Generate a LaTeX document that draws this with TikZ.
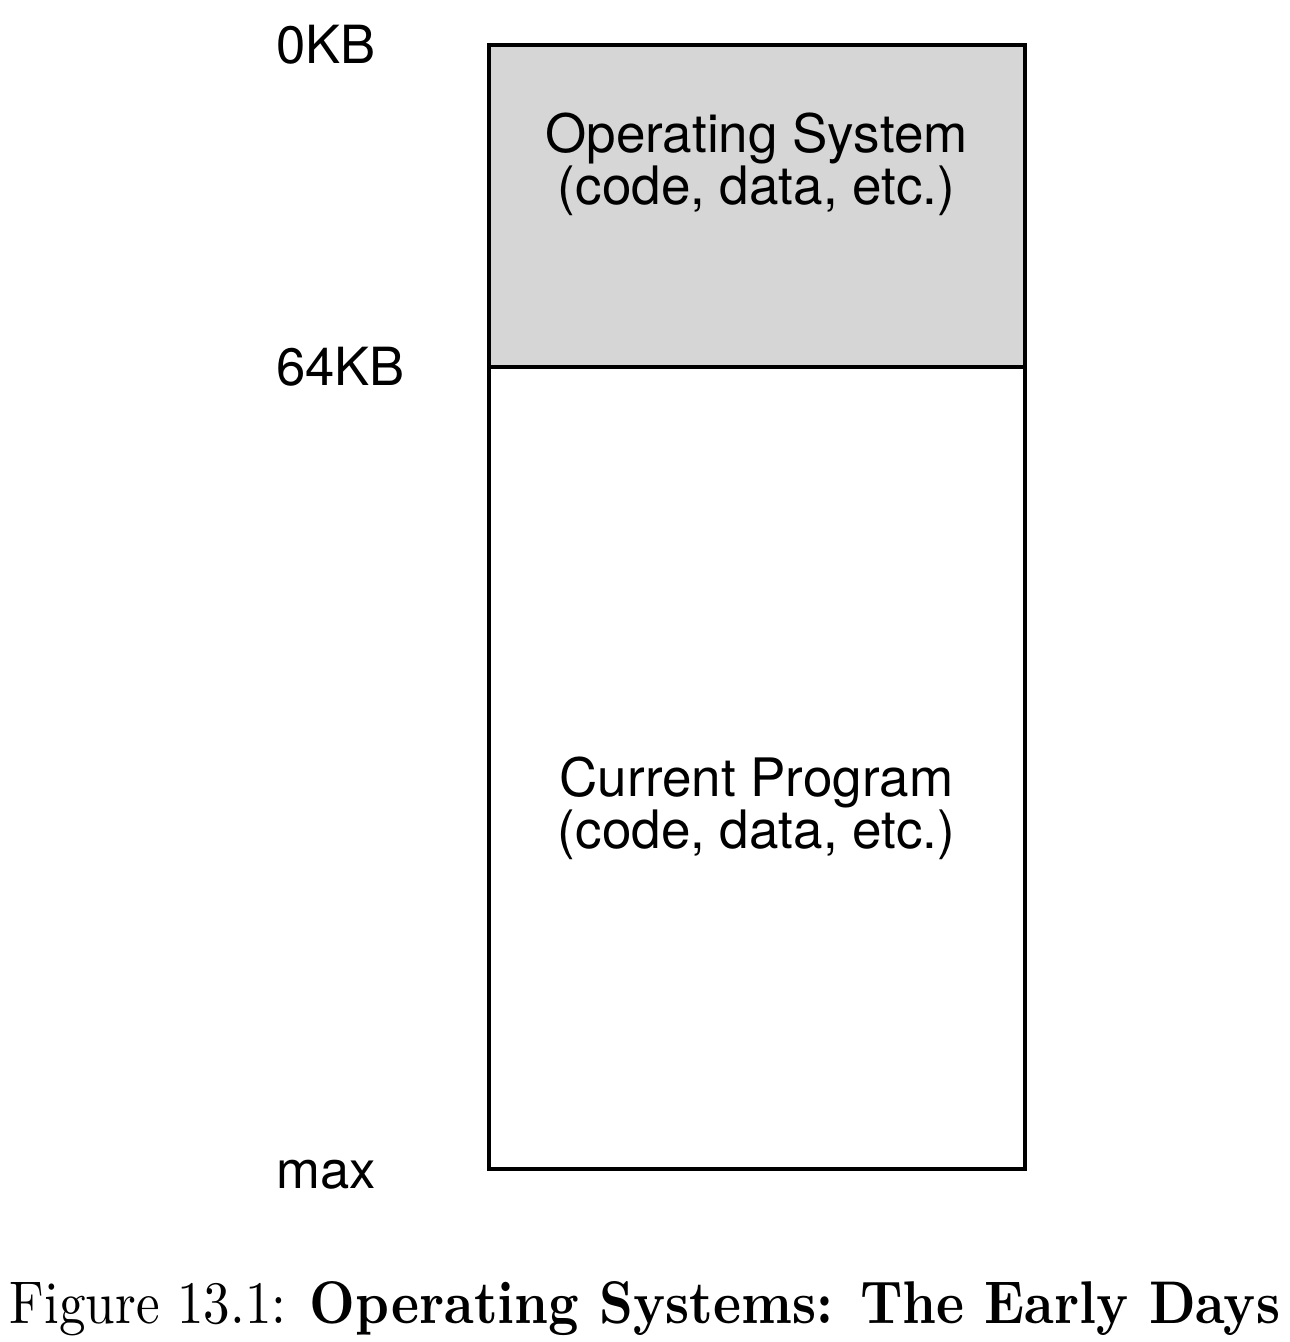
\documentclass[tikz,border=0pt]{standalone}
\usepackage{fontspec}
\usepackage{graphicx}
\newfontfamily\labelfont{TeX Gyre Heros}
\begin{document}
\begin{tikzpicture}[x=0.5pt,y=-0.5pt,
  addr/.style={font=\labelfont\fontsize{26.3pt}{26pt}\selectfont, anchor=base west, inner sep=0pt},
  boxtext/.style={font=\labelfont\fontsize{26.5pt}{26pt}\selectfont, anchor=base, inner sep=0pt},
  region/.style={draw=black, line width=2.4pt}]
\useasboundingbox (0,0) rectangle (1289,1342);
\fill[white] (0,0) rectangle (1289,1342);
\path[region, fill={rgb,255:red,214;green,214;blue,214}] (489,45) rectangle (1025,367);
\node[inner sep=0pt] (os) at (757,206) {};
\path[region] (489,367) rectangle (1025,1169);
\node[inner sep=0pt] (prog) at (757,768) {};
\node[boxtext] (os1) at (756.5,153) {Operating System};
\node[boxtext] (os2) at (756.5,205) {(code, data, etc.)};
\node[boxtext] (pg1) at (756.5,796) {Current Program};
\node[boxtext] (pg2) at (756.5,848) {(code, data, etc.)};
\node[addr] (a0) at (276,64) {0KB};
\node[addr] (a64) at (276,385) {64KB};
\node[addr] (amax) at (276,1188) {max};
\node[anchor=base, inner sep=0pt] (cap) at (645,1323) {\resizebox{635pt}{21pt}{Figure 13.1: \textbf{Operating Systems: The Early Days}}};
\end{tikzpicture}
\end{document}
